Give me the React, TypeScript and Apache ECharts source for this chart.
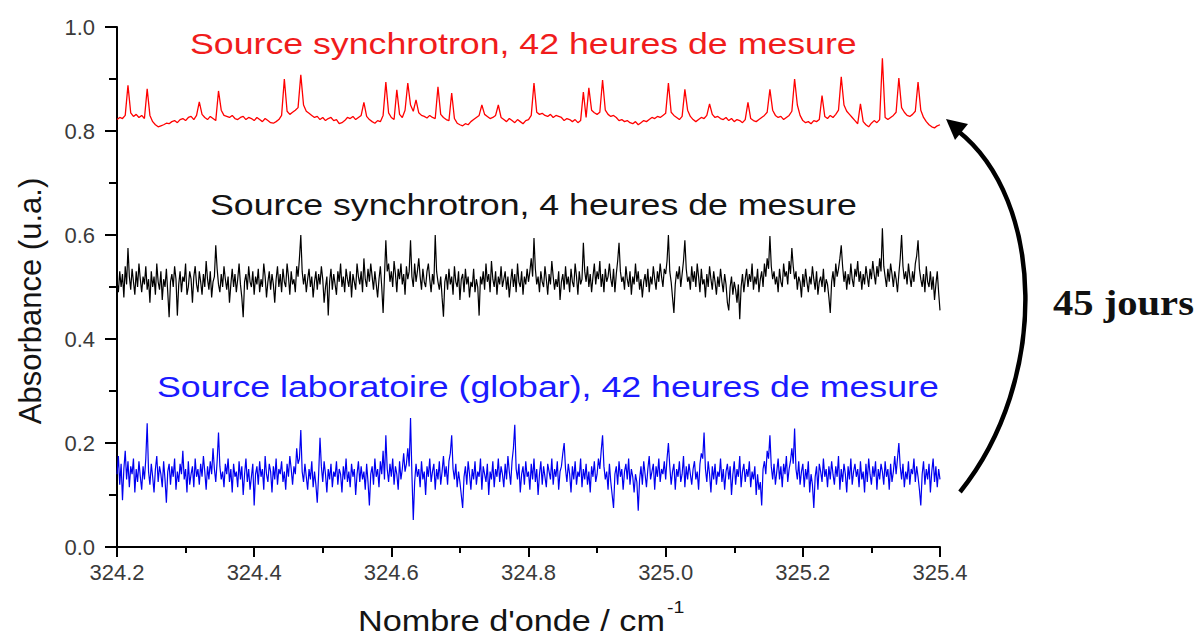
import React, { useEffect, useRef } from "react";
import * as echarts from "echarts";

// Sampling grids of the spectra (cm-1)
const WAVENUMBER_START = 324.2;
const RED_STEP = 0.004;
const NOISY_STEP = 0.002;

const X_TICKS = { min: 324.2, max: 325.4, interval: 0.2 };
const Y_TICKS = { min: 0, max: 1, interval: 0.2 };

// Source synchrotron, 42 heures de mesure (red), step 0.004
const RED_42H = [
  0.822,0.826,0.824,0.83,0.888,0.835,0.828,0.832,0.826,0.83,0.824,0.881,0.83,0.818,0.812,0.808,0.81,0.812,0.815,0.814,
  0.818,0.82,0.816,0.822,0.824,0.82,0.826,0.828,0.822,0.83,0.856,0.832,0.826,0.822,0.828,0.824,0.82,0.877,0.84,0.83,
  0.828,0.826,0.83,0.824,0.822,0.826,0.828,0.822,0.826,0.824,0.82,0.826,0.822,0.818,0.824,0.82,0.816,0.815,0.818,0.822,
  0.83,0.9,0.838,0.832,0.836,0.84,0.845,0.908,0.85,0.838,0.834,0.83,0.826,0.828,0.822,0.826,0.82,0.824,0.826,0.82,
  0.822,0.814,0.816,0.82,0.826,0.824,0.828,0.822,0.826,0.83,0.855,0.828,0.822,0.818,0.815,0.82,0.818,0.83,0.894,0.835,
  0.826,0.822,0.879,0.832,0.826,0.84,0.892,0.85,0.838,0.86,0.835,0.83,0.828,0.825,0.83,0.826,0.824,0.885,0.832,0.826,
  0.822,0.82,0.873,0.824,0.815,0.812,0.81,0.814,0.812,0.818,0.822,0.826,0.83,0.85,0.832,0.828,0.824,0.826,0.83,0.85,
  0.826,0.822,0.818,0.824,0.82,0.816,0.822,0.818,0.814,0.82,0.822,0.83,0.892,0.836,0.832,0.834,0.83,0.828,0.832,0.826,
  0.83,0.828,0.826,0.82,0.824,0.822,0.818,0.822,0.816,0.82,0.875,0.826,0.883,0.84,0.835,0.832,0.836,0.898,0.84,0.832,
  0.828,0.83,0.826,0.82,0.822,0.818,0.82,0.816,0.814,0.818,0.812,0.816,0.82,0.818,0.822,0.826,0.824,0.828,0.826,0.83,
  0.834,0.892,0.836,0.83,0.826,0.822,0.828,0.88,0.84,0.828,0.822,0.818,0.822,0.826,0.824,0.83,0.852,0.832,0.826,0.828,
  0.824,0.822,0.826,0.82,0.824,0.818,0.822,0.82,0.816,0.822,0.855,0.824,0.82,0.818,0.822,0.826,0.83,0.836,0.88,0.84,
  0.83,0.826,0.828,0.822,0.826,0.83,0.838,0.9,0.85,0.83,0.82,0.816,0.818,0.814,0.82,0.818,0.822,0.868,0.828,0.824,
  0.83,0.826,0.832,0.84,0.904,0.85,0.838,0.832,0.826,0.82,0.814,0.852,0.818,0.812,0.808,0.815,0.82,0.816,0.822,0.94,
  0.826,0.822,0.826,0.83,0.836,0.902,0.845,0.836,0.83,0.828,0.832,0.838,0.894,0.84,0.826,0.818,0.812,0.808,0.806,0.81,0.812,
];

// Source synchrotron, 4 heures de mesure (black), step 0.002
const BLACK_4H = [
  0.51,0.49,0.53,0.5,0.525,0.48,0.54,0.505,0.575,0.52,0.495,0.535,0.51,0.485,0.53,0.5,0.545,0.515,0.49,0.52,
  0.505,0.54,0.495,0.515,0.47,0.53,0.5,0.52,0.485,0.545,0.51,0.495,0.53,0.475,0.515,0.5,0.535,0.49,0.442,0.51,
  0.525,0.5,0.54,0.515,0.445,0.505,0.53,0.49,0.52,0.51,0.545,0.485,0.5,0.53,0.515,0.47,0.52,0.54,0.505,0.49,
  0.53,0.51,0.485,0.525,0.5,0.55,0.515,0.495,0.53,0.48,0.51,0.52,0.58,0.535,0.505,0.49,0.525,0.5,0.54,0.515,
  0.495,0.52,0.47,0.505,0.535,0.5,0.525,0.49,0.515,0.545,0.505,0.48,0.442,0.51,0.525,0.495,0.54,0.51,0.5,0.53,
  0.485,0.52,0.505,0.535,0.49,0.515,0.5,0.545,0.52,0.48,0.51,0.53,0.495,0.525,0.505,0.47,0.515,0.54,0.5,0.525,
  0.49,0.535,0.51,0.5,0.545,0.52,0.485,0.53,0.505,0.515,0.49,0.54,0.52,0.555,0.6,0.53,0.505,0.525,0.49,0.515,
  0.535,0.5,0.52,0.48,0.51,0.53,0.495,0.525,0.505,0.54,0.515,0.47,0.5,0.52,0.445,0.51,0.535,0.495,0.525,0.505,
  0.485,0.53,0.51,0.545,0.5,0.52,0.49,0.535,0.515,0.5,0.53,0.48,0.525,0.51,0.495,0.545,0.52,0.505,0.53,0.49,
  0.555,0.515,0.5,0.535,0.51,0.545,0.52,0.495,0.53,0.505,0.48,0.515,0.54,0.5,0.45,0.52,0.59,0.53,0.545,0.51,
  0.53,0.5,0.55,0.525,0.49,0.535,0.515,0.545,0.505,0.525,0.485,0.54,0.515,0.53,0.59,0.52,0.5,0.545,0.51,0.53,
  0.555,0.52,0.495,0.535,0.51,0.5,0.53,0.545,0.515,0.49,0.525,0.505,0.6,0.53,0.51,0.495,0.52,0.48,0.443,0.51,
  0.525,0.495,0.535,0.505,0.52,0.485,0.54,0.51,0.5,0.53,0.475,0.515,0.525,0.49,0.535,0.505,0.52,0.48,0.51,0.5,
  0.535,0.49,0.515,0.5,0.445,0.52,0.505,0.53,0.495,0.545,0.51,0.525,0.49,0.55,0.515,0.5,0.53,0.485,0.52,0.505,
  0.54,0.5,0.515,0.53,0.495,0.52,0.48,0.51,0.535,0.5,0.525,0.49,0.545,0.51,0.5,0.53,0.485,0.52,0.505,0.535,
  0.51,0.53,0.555,0.52,0.594,0.535,0.505,0.52,0.49,0.53,0.51,0.5,0.54,0.515,0.485,0.525,0.505,0.55,0.52,0.495,
  0.515,0.5,0.53,0.475,0.51,0.525,0.495,0.54,0.505,0.52,0.49,0.535,0.51,0.5,0.545,0.52,0.485,0.53,0.505,0.515,
  0.585,0.53,0.51,0.54,0.5,0.525,0.49,0.52,0.545,0.505,0.53,0.515,0.55,0.5,0.525,0.49,0.535,0.51,0.52,0.545,
  0.515,0.5,0.535,0.49,0.525,0.55,0.585,0.53,0.51,0.52,0.495,0.54,0.515,0.5,0.53,0.485,0.52,0.505,0.545,0.51,
  0.53,0.495,0.515,0.48,0.51,0.525,0.5,0.535,0.49,0.52,0.505,0.54,0.515,0.495,0.53,0.51,0.545,0.52,0.5,0.535,
  0.525,0.55,0.6,0.53,0.51,0.48,0.45,0.505,0.53,0.515,0.54,0.5,0.525,0.55,0.59,0.535,0.51,0.52,0.495,0.54,
  0.51,0.53,0.5,0.545,0.52,0.49,0.535,0.505,0.515,0.48,0.525,0.5,0.54,0.515,0.495,0.53,0.51,0.485,0.52,0.5,
  0.535,0.51,0.49,0.525,0.505,0.47,0.455,0.5,0.52,0.485,0.51,0.495,0.47,0.505,0.438,0.5,0.525,0.49,0.515,0.535,
  0.5,0.525,0.51,0.545,0.495,0.52,0.505,0.535,0.49,0.515,0.53,0.5,0.545,0.52,0.555,0.535,0.598,0.54,0.515,0.53,
  0.505,0.52,0.49,0.535,0.51,0.5,0.545,0.52,0.53,0.505,0.55,0.525,0.575,0.54,0.515,0.53,0.495,0.52,0.51,0.48,
  0.525,0.5,0.535,0.51,0.49,0.52,0.505,0.54,0.515,0.495,0.53,0.485,0.51,0.52,0.5,0.535,0.49,0.515,0.505,0.48,
  0.45,0.51,0.53,0.5,0.545,0.52,0.535,0.555,0.58,0.54,0.51,0.53,0.495,0.525,0.505,0.545,0.515,0.5,0.535,0.52,
  0.55,0.51,0.53,0.495,0.525,0.505,0.54,0.52,0.5,0.535,0.515,0.55,0.525,0.505,0.54,0.52,0.555,0.53,0.613,0.54,
  0.52,0.5,0.535,0.51,0.545,0.525,0.5,0.53,0.515,0.49,0.525,0.555,0.6,0.54,0.515,0.53,0.505,0.545,0.52,0.5,
  0.53,0.51,0.545,0.56,0.59,0.535,0.515,0.5,0.525,0.49,0.54,0.51,0.5,0.53,0.495,0.52,0.475,0.505,0.53,0.49,
  0.455,
];

// Source laboratoire (globar), 42 heures de mesure (blue), step 0.002
const BLUE_GLOBAR = [
  0.14,0.175,0.12,0.16,0.09,0.15,0.185,0.13,0.165,0.115,0.155,0.14,0.17,0.105,0.15,0.125,0.165,0.135,0.11,0.155,
  0.13,0.17,0.238,0.145,0.12,0.16,0.135,0.105,0.15,0.175,0.125,0.155,0.14,0.115,0.165,0.13,0.085,0.145,0.16,0.12,
  0.155,0.135,0.17,0.11,0.145,0.125,0.16,0.14,0.185,0.13,0.15,0.105,0.165,0.12,0.14,0.155,0.115,0.17,0.135,0.15,
  0.12,0.16,0.135,0.175,0.145,0.11,0.155,0.13,0.165,0.14,0.19,0.15,0.125,0.165,0.22,0.155,0.13,0.145,0.115,0.16,
  0.14,0.17,0.125,0.15,0.105,0.16,0.135,0.145,0.115,0.165,0.13,0.155,0.1,0.14,0.17,0.125,0.15,0.11,0.135,0.16,
  0.08,0.14,0.155,0.12,0.165,0.135,0.15,0.11,0.175,0.14,0.125,0.16,0.145,0.105,0.155,0.13,0.17,0.12,0.15,0.14,
  0.165,0.125,0.145,0.11,0.16,0.135,0.175,0.15,0.12,0.155,0.14,0.19,0.16,0.17,0.225,0.145,0.125,0.16,0.135,0.11,
  0.15,0.13,0.165,0.115,0.145,0.12,0.085,0.14,0.21,0.155,0.125,0.165,0.14,0.105,0.15,0.13,0.16,0.115,0.145,0.135,
  0.165,0.12,0.15,0.14,0.105,0.155,0.13,0.17,0.125,0.145,0.115,0.16,0.135,0.15,0.1,0.14,0.165,0.125,0.155,0.13,
  0.145,0.11,0.16,0.125,0.08,0.14,0.155,0.12,0.17,0.135,0.15,0.115,0.165,0.14,0.185,0.13,0.215,0.15,0.125,0.16,
  0.135,0.17,0.12,0.155,0.14,0.11,0.165,0.13,0.15,0.18,0.145,0.16,0.19,0.155,0.248,0.14,0.052,0.125,0.16,0.135,
  0.15,0.115,0.165,0.13,0.145,0.1,0.155,0.135,0.17,0.125,0.145,0.16,0.11,0.15,0.13,0.165,0.12,0.145,0.175,0.135,
  0.155,0.12,0.165,0.18,0.215,0.15,0.13,0.16,0.115,0.145,0.125,0.1,0.075,0.135,0.155,0.12,0.165,0.14,0.11,0.15,
  0.13,0.165,0.12,0.145,0.135,0.17,0.11,0.155,0.14,0.125,0.16,0.1,0.145,0.13,0.165,0.115,0.15,0.135,0.17,0.125,
  0.155,0.14,0.115,0.16,0.13,0.175,0.145,0.12,0.165,0.19,0.235,0.15,0.13,0.16,0.105,0.14,0.155,0.12,0.165,0.135,
  0.145,0.11,0.16,0.13,0.17,0.125,0.15,0.1,0.14,0.165,0.12,0.155,0.135,0.115,0.16,0.145,0.13,0.17,0.12,0.15,
  0.135,0.165,0.11,0.145,0.155,0.18,0.2,0.15,0.125,0.16,0.14,0.105,0.155,0.13,0.165,0.12,0.145,0.135,0.17,0.115,
  0.15,0.13,0.16,0.12,0.145,0.105,0.155,0.135,0.165,0.125,0.14,0.17,0.15,0.185,0.215,0.155,0.13,0.145,0.11,0.16,
  0.125,0.1,0.075,0.14,0.155,0.12,0.165,0.135,0.15,0.11,0.145,0.16,0.13,0.17,0.12,0.15,0.135,0.105,0.14,0.125,
  0.07,0.13,0.155,0.12,0.165,0.14,0.115,0.15,0.175,0.13,0.145,0.16,0.11,0.155,0.135,0.17,0.125,0.15,0.14,0.165,
  0.13,0.17,0.2,0.155,0.12,0.145,0.16,0.11,0.15,0.135,0.165,0.125,0.14,0.175,0.115,0.155,0.13,0.16,0.14,0.12,
  0.15,0.165,0.13,0.145,0.11,0.16,0.18,0.17,0.22,0.15,0.125,0.165,0.14,0.105,0.155,0.13,0.16,0.12,0.145,0.135,
  0.17,0.125,0.15,0.11,0.145,0.16,0.13,0.155,0.1,0.14,0.165,0.12,0.15,0.135,0.175,0.115,0.145,0.16,0.125,0.15,
  0.135,0.165,0.115,0.145,0.13,0.155,0.1,0.14,0.11,0.125,0.08,0.15,0.165,0.14,0.185,0.17,0.215,0.155,0.13,0.16,
  0.12,0.145,0.17,0.13,0.155,0.115,0.16,0.14,0.175,0.125,0.15,0.165,0.19,0.16,0.228,0.15,0.13,0.165,0.12,0.145,
  0.16,0.115,0.15,0.13,0.165,0.105,0.14,0.12,0.075,0.135,0.155,0.11,0.16,0.145,0.125,0.17,0.135,0.15,0.115,0.155,
  0.13,0.165,0.14,0.12,0.155,0.135,0.175,0.11,0.15,0.125,0.16,0.14,0.105,0.155,0.13,0.17,0.12,0.145,0.16,0.135,
  0.15,0.115,0.165,0.13,0.145,0.105,0.16,0.125,0.17,0.14,0.12,0.155,0.135,0.165,0.11,0.15,0.13,0.16,0.145,0.12,
  0.165,0.135,0.15,0.11,0.16,0.125,0.145,0.175,0.14,0.17,0.2,0.155,0.13,0.16,0.115,0.145,0.13,0.165,0.12,0.15,
  0.14,0.17,0.125,0.155,0.135,0.11,0.08,0.14,0.165,0.12,0.15,0.13,0.16,0.105,0.145,0.17,0.125,0.155,0.115,0.15,
  0.13,
];

const SERIES_LABELS = [
  "Source synchrotron, 42 heures de mesure",
  "Source synchrotron, 4 heures de mesure",
  "Source laboratoire (globar), 42 heures de mesure",
];
const SERIES_COLORS = ["#ff0000", "#000000", "#0000f0"];
const LABEL_COLORS = ["#f01c1c", "#141414", "#1a1aff"];

const X_AXIS_NAME = "Nombre d'onde / cm";
const X_AXIS_NAME_SUP = "-1";
const Y_AXIS_NAME = "Absorbance (u.a.)";
const ARROW_LABEL = "45 jours";

const SANS = "'Liberation Sans', Arial, sans-serif";
const SERIF = "'Liberation Serif', 'Times New Roman', serif";

const toPairs = (vals: number[], step: number) =>
  vals.map((v, i) => [+(WAVENUMBER_START + i * step).toFixed(3), v]);

export default function App() {
  const ref = useRef<HTMLDivElement>(null);

  useEffect(() => {
    if (!ref.current) return;
    const chart = echarts.init(ref.current, undefined, { renderer: "svg" });
    const allData = [
      { vals: RED_42H, step: RED_STEP, width: 1.3 },
      { vals: BLACK_4H, step: NOISY_STEP, width: 1.2 },
      { vals: BLUE_GLOBAR, step: NOISY_STEP, width: 1.2 },
    ];

    const axisLineStyle = { color: "#000", width: 2 };

    const titlePos = [
      { x: 190, y: 44 },
      { x: 210, y: 205 },
      { x: 157, y: 387 },
    ];

    chart.setOption({
      animation: false,
      backgroundColor: "#fff",
      grid: { left: 117, right: 258, top: 27, bottom: 92, containLabel: false },
      xAxis: {
        type: "value",
        min: X_TICKS.min,
        max: X_TICKS.max,
        interval: X_TICKS.interval,
        axisLine: { show: true, onZero: false, lineStyle: axisLineStyle },
        axisTick: { show: true, length: 10, lineStyle: axisLineStyle },
        minorTick: { show: true, splitNumber: 2, length: 6, lineStyle: axisLineStyle },
        axisLabel: {
          formatter: (v: number) => v.toFixed(1),
          fontSize: 22,
          color: "#3a3a3a",
          fontFamily: SANS,
          margin: 14,
        },
        splitLine: { show: false },
        minorSplitLine: { show: false },
      },
      yAxis: {
        type: "value",
        min: Y_TICKS.min,
        max: Y_TICKS.max,
        interval: Y_TICKS.interval,
        axisLine: { show: true, lineStyle: axisLineStyle },
        axisTick: { show: true, length: 12, lineStyle: axisLineStyle },
        minorTick: { show: true, splitNumber: 2, length: 8, lineStyle: axisLineStyle },
        axisLabel: {
          formatter: (v: number) => v.toFixed(1),
          fontSize: 22,
          color: "#3a3a3a",
          fontFamily: SANS,
          margin: 22,
        },
        splitLine: { show: false },
        minorSplitLine: { show: false },
      },
      series: allData.map((d, k) => ({
        type: "line",
        name: SERIES_LABELS[k],
        data: toPairs(d.vals, d.step),
        showSymbol: false,
        symbol: "none",
        lineStyle: { color: SERIES_COLORS[k], width: d.width },
        itemStyle: { color: SERIES_COLORS[k] },
        z: 3 - k,
      })),
      graphic: [
        ...SERIES_LABELS.map((t, k) => ({
          type: "text",
          x: titlePos[k].x,
          y: titlePos[k].y,
          scaleX: 1.19,
          style: {
            text: t,
            fontSize: 30,
            fontFamily: SANS,
            fill: LABEL_COLORS[k],
            align: "left",
            verticalAlign: "middle",
          },
        })),
        {
          type: "text",
          x: 30,
          y: 301,
          rotation: Math.PI / 2,
          style: {
            text: Y_AXIS_NAME,
            fontSize: 31,
            fontFamily: SANS,
            fill: "#141414",
            align: "center",
            verticalAlign: "middle",
          },
        },
        {
          type: "text",
          x: 358,
          y: 621,
          scaleX: 1.18,
          style: {
            text: X_AXIS_NAME,
            fontSize: 29,
            fontFamily: SANS,
            fill: "#141414",
            align: "left",
            verticalAlign: "middle",
          },
        },
        {
          type: "text",
          x: 667,
          y: 607,
          scaleX: 1.15,
          style: {
            text: X_AXIS_NAME_SUP,
            fontSize: 17,
            fontFamily: SANS,
            fill: "#141414",
            align: "left",
            verticalAlign: "middle",
          },
        },
        {
          type: "bezierCurve",
          shape: {
            x1: 960, y1: 492,
            cpx1: 1050, cpy1: 380,
            cpx2: 1045, cpy2: 200,
            x2: 958, y2: 131,
          },
          style: { stroke: "#000", lineWidth: 4.5, fill: null },
        },
        {
          type: "polygon",
          shape: { points: [[946, 119], [968, 124], [955, 140]] },
          style: { fill: "#000" },
        },
        {
          type: "text",
          x: 1053,
          y: 303,
          scaleX: 1.16,
          style: {
            text: ARROW_LABEL,
            fontSize: 35,
            fontWeight: "bold",
            fontFamily: SERIF,
            fill: "#111",
            align: "left",
            verticalAlign: "middle",
          },
        },
      ],
    });

    return () => chart.dispose();
  }, []);

  return (
    <div
      ref={ref}
      style={{ position: "fixed", left: 0, top: 0, width: 1198, height: 639 }}
    />
  );
}
